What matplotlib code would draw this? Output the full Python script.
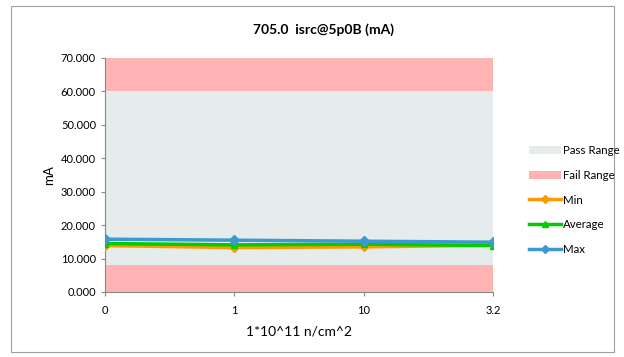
import matplotlib
matplotlib.use("Agg")
import matplotlib.pyplot as plt
from matplotlib.patches import Rectangle, Patch
from matplotlib.lines import Line2D

plt.rcParams['font.family'] = ['Lato', 'DejaVu Sans']

categories = ['0', '1', '10', '3.2']
min_vals = [13.9, 13.3, 13.5, 14.0]
avg_vals = [14.5, 14.1, 14.3, 13.9]
max_vals = [15.8, 15.5, 15.2, 14.9]
pass_low, pass_high = 8.0, 60.0
y_max = 70.0
yticks = [0, 10, 20, 30, 40, 50, 60, 70]

fig = plt.figure(figsize=(6.24, 3.57), dpi=100)
fig.patches.append(Rectangle((11/624, 1-352/357), 603/624, 346/357, transform=fig.transFigure,
                             fill=False, edgecolor='#a0a0a0', linewidth=0.8))
ax = fig.add_axes([105/624, 1-292/357, 388/624, 234/357])

x = list(range(len(categories)))
ax.axhspan(0, pass_low, color='#ffb3b3', lw=0)
ax.axhspan(pass_low, pass_high, color='#e6ebeb', lw=0)
ax.axhspan(pass_high, y_max, color='#ffb3b3', lw=0)

ax.plot(x, min_vals, color='#ff9900', marker='D', ms=4, lw=2.5, zorder=3)
ax.plot(x, avg_vals, color='#00cc00', marker='^', ms=5, lw=2.5, zorder=4)
ax.plot(x, max_vals, color='#3b9ad0', marker='D', ms=5, lw=2.5, zorder=5)

ax.set_xlim(0, len(categories) - 1)
ax.set_ylim(0, y_max)
ax.set_xticks(x)
ax.set_xticklabels(categories)
ax.set_yticks(yticks)
ax.set_yticklabels([f'{v:.3f}' for v in yticks])
for s in ['top', 'right']:
    ax.spines[s].set_visible(False)
for s in ['left', 'bottom']:
    ax.spines[s].set_color('#888888')
    ax.spines[s].set_linewidth(0.8)
ax.tick_params(axis='both', colors='#888888', labelcolor='black', labelsize=8, length=3, width=0.8)
ax.tick_params(axis='x', pad=6)

fig.text(323/624, 1-30/357, '705.0  isrc@5p0B (mA)', fontsize=10, fontweight='bold',
         ha='center', va='center')
ax.set_ylabel('mA', fontsize=9.5, labelpad=4)
ax.set_xlabel('1*10^11 n/cm^2', fontsize=10, labelpad=7)

handles = [
    Patch(facecolor='#e6ebeb', edgecolor='none', label='Pass Range'),
    Patch(facecolor='#ffb3b3', edgecolor='none', label='Fail Range'),
    Line2D([0], [0], color='#ff9900', marker='D', ms=4, lw=2.5, label='Min'),
    Line2D([0], [0], color='#00cc00', marker='^', ms=5, lw=2.5, label='Average'),
    Line2D([0], [0], color='#3b9ad0', marker='D', ms=4, lw=2.5, label='Max'),
]
fig.legend(handles=handles, loc='center left', bbox_to_anchor=(524/624, 1-200/357),
           frameon=False, fontsize=8.3, handlelength=2.8, handletextpad=0.15,
           labelspacing=1.2, borderaxespad=0)

fig.savefig('out.png', dpi=100)
